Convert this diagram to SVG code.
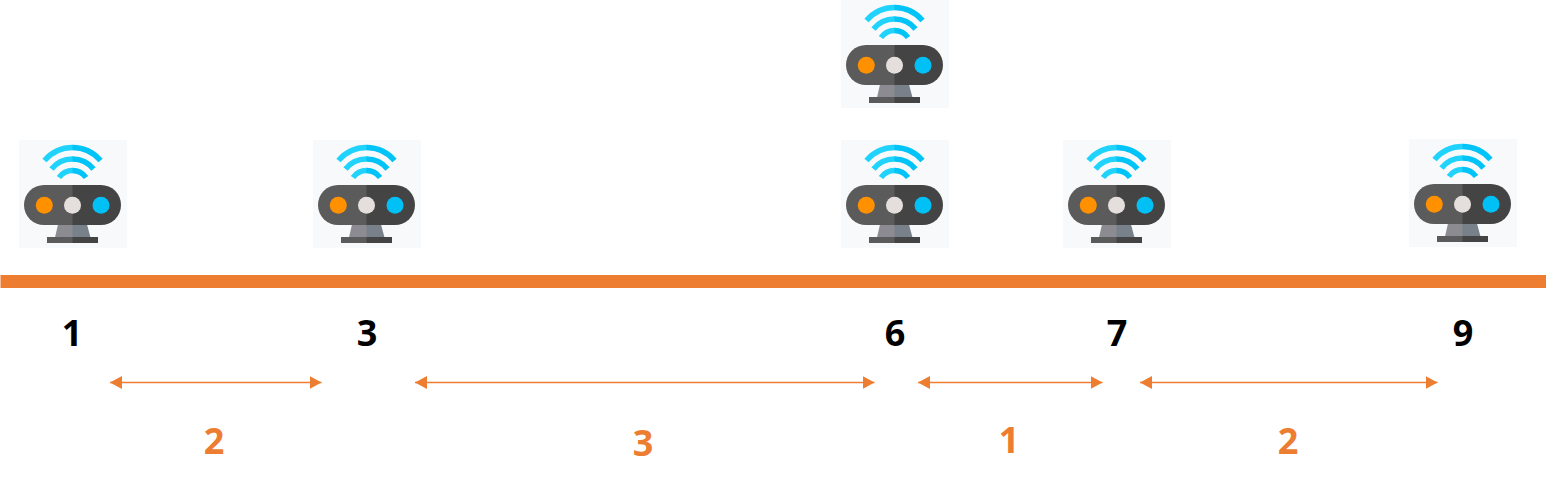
<svg xmlns="http://www.w3.org/2000/svg" width="1553" height="487" viewBox="0 0 1553 487">
<style>
.num{font-family:"Open Sans","Liberation Sans",sans-serif;font-weight:700;font-size:36px;text-anchor:middle;fill:#000}
.dist{fill:#ed7d31}
.conn{stroke:#ed7d31;stroke-width:1.5;fill:none;marker-start:url(#head);marker-end:url(#head)}
.wl{fill:none;stroke:#1fd3fc;stroke-width:5.500}
.wr{fill:none;stroke:#00c3f7;stroke-width:5.500}
</style>
<defs>
<marker id="head" markerUnits="userSpaceOnUse" markerWidth="12" markerHeight="13" refX="12" refY="6.5" orient="auto-start-reverse">
<path d="M0 0L12 6.5L0 13Z" fill="#ed7d31"/>
</marker>
<g id="device">
<rect width="108" height="108" fill="#f8f9fb"/>
<path class="wl" d="M25.500 20.500A37 37 0 0 1 54 7.500"/>
<path class="wr" d="M53.500 7.500A37 37 0 0 1 81.500 20.500"/>
<path class="wl" d="M32.500 29A27 27 0 0 1 54 19"/>
<path class="wr" d="M53.500 19A27 27 0 0 1 74.500 29"/>
<path class="wl" d="M40 37.500A17 17 0 0 1 54 30.500"/>
<path class="wr" d="M53.500 30.500A17 17 0 0 1 67 37.500"/>
<path d="M39 84.500H54V97.500H36Z" fill="#8b8b91"/>
<path d="M53.500 84.500H68L71.500 97.500H53.500Z" fill="#78808a"/>
<path d="M25 45H54V85H25A20 20 0 0 1 25 45Z" fill="#5b5b5b"/>
<path d="M53.500 45H82A20 20 0 0 1 82 85H53.500Z" fill="#444444"/>
<rect x="28" y="97" width="26" height="6" fill="#5b5b5b"/>
<rect x="53.500" y="97" width="25.500" height="6" fill="#444444"/>
<circle cx="25.300" cy="65.300" r="8.500" fill="#ff9100"/>
<circle cx="53.500" cy="65.300" r="8.500" fill="#e4dfdc"/>
<circle cx="82" cy="65.300" r="8.500" fill="#00c0f5"/>
</g>
</defs>
<rect width="1553" height="487" fill="#fff"/>
<rect id="bar" x="0.500" y="275" width="1545.500" height="13" fill="#ed7d31"/>
<g id="node-1"><use href="#device" x="19" y="140"/><text class="num" x="72" y="346">1</text></g>
<g id="node-3"><use href="#device" x="313" y="140"/><text class="num" x="367" y="346">3</text></g>
<g id="node-6-top"><use href="#device" x="841" y="0"/></g>
<g id="node-6"><use href="#device" x="841" y="140"/><text class="num" x="895" y="346">6</text></g>
<g id="node-7"><use href="#device" x="1063" y="140"/><text class="num" x="1117" y="346">7</text></g>
<g id="node-9"><use href="#device" x="1409" y="139"/><text class="num" x="1463" y="346">9</text></g>
<g id="connectors">
<line class="conn" x1="110" y1="382.500" x2="321.500" y2="382.500"/>
<line class="conn" x1="415" y1="382.500" x2="874.500" y2="382.500"/>
<line class="conn" x1="918" y1="382.500" x2="1102.500" y2="382.500"/>
<line class="conn" x1="1140" y1="382.500" x2="1437.500" y2="382.500"/>
</g>
<g id="distances">
<text class="num dist" x="214" y="454">2</text>
<text class="num dist" x="643" y="456">3</text>
<text class="num dist" x="1009" y="453">1</text>
<text class="num dist" x="1288" y="454">2</text>
</g>
</svg>
